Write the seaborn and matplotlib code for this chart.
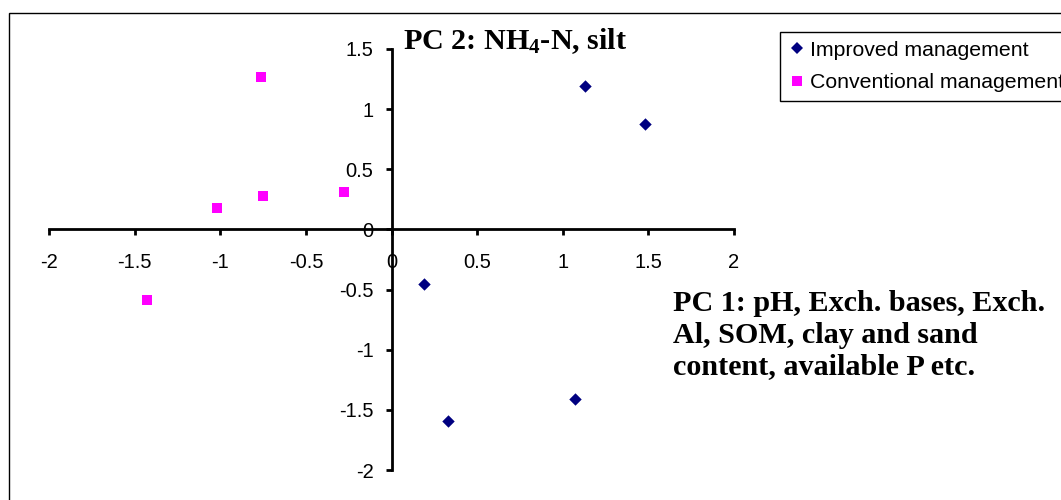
import matplotlib
matplotlib.use("Agg")
import matplotlib.pyplot as plt
import seaborn as sns
import pandas as pd
from matplotlib.patches import Rectangle
from matplotlib.lines import Line2D

# Data
improved_x = [1.13, 1.48, 0.19, 0.33, 1.07]
improved_y = [1.19, 0.88, -0.45, -1.59, -1.41]
conventional_x = [-0.76, -1.02, -0.75, -0.28, -1.43]
conventional_y = [1.27, 0.18, 0.28, 0.31, -0.59]
series_names = ["Improved management", "Conventional management"]
x_ticks = [-2, -1.5, -1, -0.5, 0, 0.5, 1, 1.5, 2]
y_ticks = [-2, -1.5, -1, -0.5, 0, 0.5, 1, 1.5]
x_tick_labels = ["-2", "-1.5", "-1", "-0.5", "0", "0.5", "1", "1.5", "2"]
y_tick_labels = ["-2", "-1.5", "-1", "-0.5", "0", "0.5", "1", "1.5"]
pc2_label = "PC 2: NH$_4$-N, silt"
pc1_label = "PC 1: pH, Exch. bases, Exch.\nAl, SOM, clay and sand\ncontent, available P etc."

df = pd.DataFrame({
    "x": improved_x + conventional_x,
    "y": improved_y + conventional_y,
    "group": [series_names[0]] * len(improved_x) + [series_names[1]] * len(conventional_x),
})

sns.set_style("white")
plt.rcParams["font.family"] = ["Liberation Sans", "DejaVu Sans"]
plt.rcParams["text.color"] = "black"
plt.rcParams["mathtext.fontset"] = "custom"
plt.rcParams["mathtext.rm"] = "Liberation Serif:bold"
plt.rcParams["mathtext.it"] = "Liberation Serif:bold"
plt.rcParams["mathtext.bf"] = "Liberation Serif:bold"

W, H = 1061, 500
fig = plt.figure(figsize=(W / 100, H / 100), dpi=100)
ax = fig.add_axes([49 / W, 1 - 470 / H, (734 - 49) / W, (470 - 49) / H])

palette = {series_names[0]: "#000080", series_names[1]: "#FF00FF"}
markers = {series_names[0]: "D", series_names[1]: "s"}
sizes = {series_names[0]: 40, series_names[1]: 52}

for name in series_names:
    sub = df[df["group"] == name]
    sns.scatterplot(data=sub, x="x", y="y", color=palette[name], marker=markers[name],
                    s=sizes[name], linewidth=0, ax=ax, label=name, legend=False, zorder=3)

ax.set_xlim(-2, 2)
ax.set_ylim(-2, 1.5)
ax.set_xlabel("")
ax.set_ylabel("")
ax.set_xticks(x_ticks)
ax.set_xticklabels(x_tick_labels)
ax.set_yticks(y_ticks)
ax.set_yticklabels(y_tick_labels)

for side in ["top", "right"]:
    ax.spines[side].set_visible(False)
for side in ["left", "bottom"]:
    ax.spines[side].set_position(("data", 0))
    ax.spines[side].set_color("black")
    ax.spines[side].set_linewidth(2.0)
    ax.spines[side].set_zorder(2)

ax.tick_params(axis="both", direction="out", length=4, width=2.0, color="black",
               labelsize=14.5, labelcolor="black", bottom=True, left=True,
               top=False, right=False)
ax.tick_params(axis="x", pad=13)
ax.tick_params(axis="y", pad=9)
ax.set_facecolor("none")
ax.grid(False)

# Legend
handles = [
    Line2D([], [], linestyle="none", marker="D", markersize=6.0, color="#000080", markeredgewidth=0),
    Line2D([], [], linestyle="none", marker="s", markersize=7.0, color="#FF00FF", markeredgewidth=0),
]
leg = fig.legend(handles, series_names, loc="upper left",
                 bbox_to_anchor=(780 / W, 1 - 32 / H), bbox_transform=fig.transFigure,
                 borderaxespad=0, frameon=True, fancybox=False, shadow=False,
                 edgecolor="black", framealpha=1, fontsize=15.3,
                 handlelength=0.8, handletextpad=0.2, borderpad=0.42, labelspacing=0.62)
leg.get_frame().set_linewidth(1.0)
for t in leg.get_texts():
    t.set_color("black")

# Axis titles
fig.text(403 / W, 1 - 49 / H, pc2_label, family="Liberation Serif", weight="bold",
         fontsize=21.7, va="baseline", ha="left", color="black")
fig.text(673 / W, 1 - 290 / H, pc1_label, family="Liberation Serif", weight="bold",
         fontsize=21.7, va="top", ha="left", linespacing=1.22, color="black")

# Outer chart border
fig.patches.append(Rectangle((9 / W, -0.1), 1.2, 1.1 - 13 / H, transform=fig.transFigure,
                             fill=False, edgecolor="black", linewidth=1.0, zorder=0))

fig.savefig("out.png", dpi=100)
